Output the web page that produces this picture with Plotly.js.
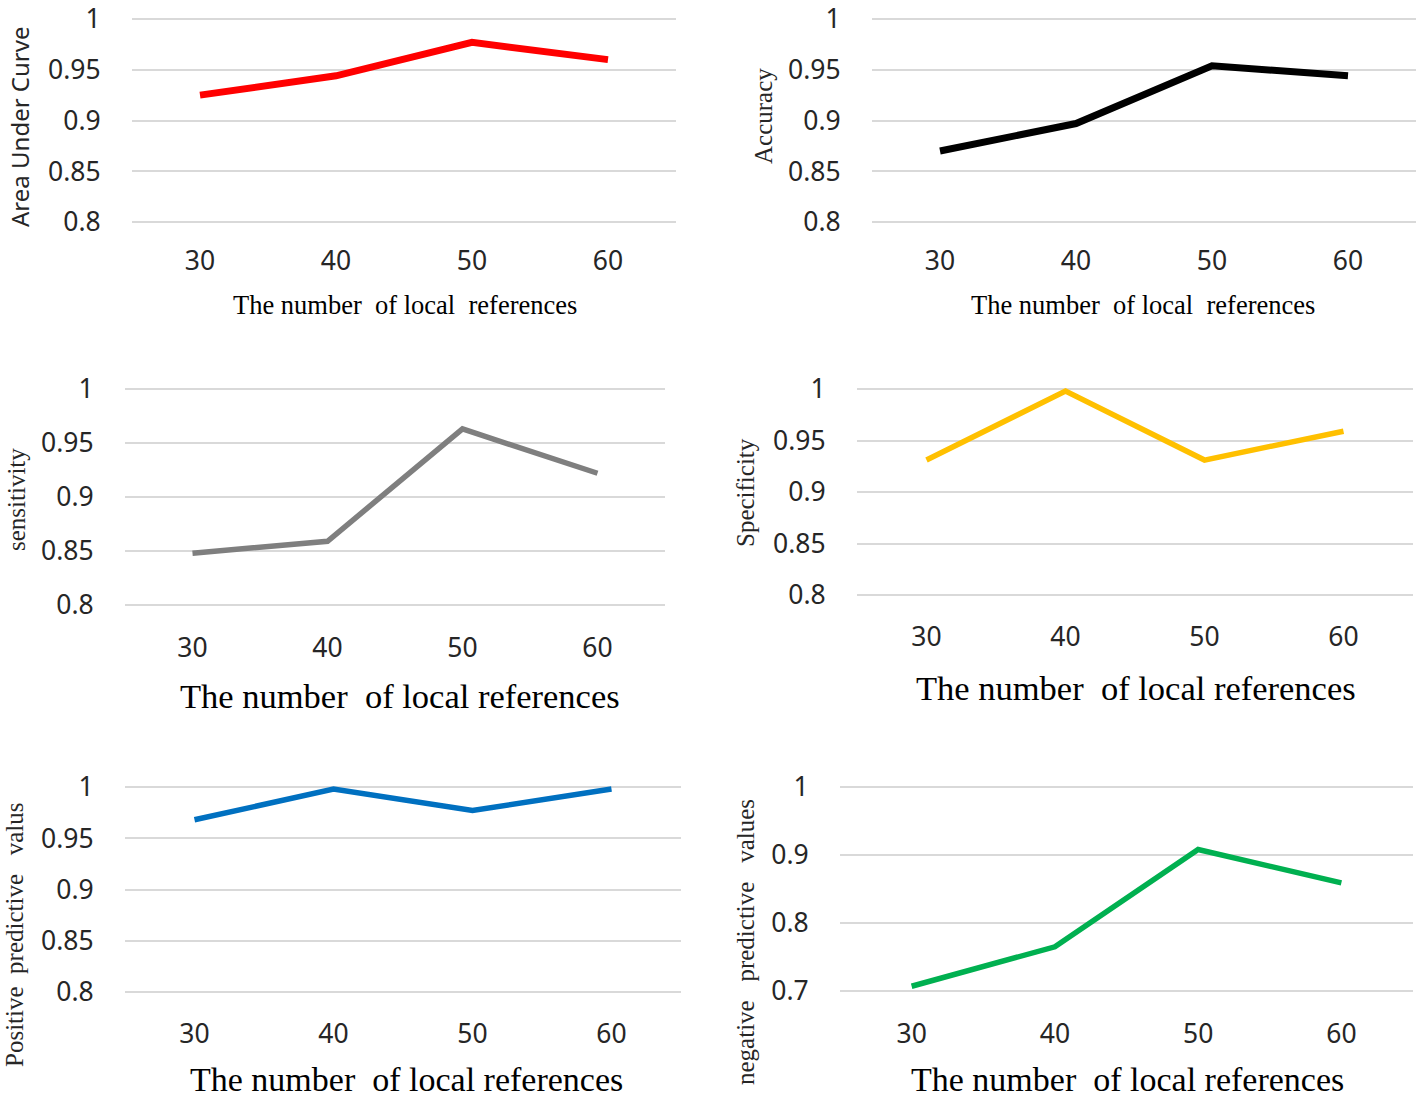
<!DOCTYPE html>
<html>
<head>
<meta charset="utf-8">
<script src="https://cdn.plot.ly/plotly-3.0.1.min.js"></script>
<style>
  html, body { margin: 0; padding: 0; background: #ffffff; }
  #chart { width: 1416px; height: 1099px; }
</style>
</head>
<body>
<div id="chart"></div>
<script>
// ---- data ----
const categories = ['30', '40', '50', '60'];
const aucValues = [0.925, 0.944, 0.977, 0.960];
const accuracyValues = [0.870, 0.897, 0.954, 0.944];
const sensitivityValues = [0.848, 0.859, 0.963, 0.922];
const specificityValues = [0.931, 0.998, 0.931, 0.959];
const ppvValues = [0.968, 0.998, 0.977, 0.998];
const npvValues = [0.707, 0.765, 0.908, 0.859];

const tickVals1 = [0.8, 0.85, 0.9, 0.95, 1];
const tickText1 = ['0.8', '0.85', '0.9', '0.95', '1'];
const tickVals2 = [0.7, 0.8, 0.9, 1];
const tickText2 = ['0.7', '0.8', '0.9', '1'];

const xTitle = 'The number\u00A0 of local references';
const xTitleTop = 'The number\u00A0 of local\u00A0 references';

// ---- layout specs (pixels) ----
const W = 1416, H = 1099, PAD = 10;
const panels = [
  { y: aucValues, color: '#FF0000', lw: 7, x0: 132, x1: 676, y0: 19, y1: 222, rmin: 0.8, rmax: 1, tv: tickVals1, tt: tickText1, xtl: 5,
    ytitle: 'Area Under Curve', ytFont: 'Noto Sans, sans-serif', ytSize: 24, ytx: 19, yty: 127,
    xtitle: xTitleTop, xtSize: 26.5, xtx: 405, xty: 305 },
  { y: accuracyValues, color: '#000000', lw: 7, x0: 872, x1: 1416, y0: 19, y1: 222, rmin: 0.8, rmax: 1, tv: tickVals1, tt: tickText1, xtl: 5,
    ytitle: 'Accuracy', ytFont: 'Liberation Serif, serif', ytSize: 25, ytx: 763, yty: 116,
    xtitle: xTitleTop, xtSize: 26.5, xtx: 1143, xty: 305 },
  { y: sensitivityValues, color: '#7F7F7F', lw: 5.5, x0: 125, x1: 665, y0: 389, y1: 605, rmin: 0.8, rmax: 1, tv: tickVals1, tt: tickText1, xtl: 9,
    ytitle: 'sensitivity', ytFont: 'Liberation Serif, serif', ytSize: 25, ytx: 16, yty: 500,
    xtitle: xTitle, xtSize: 34.5, xtx: 400, xty: 696 },
  { y: specificityValues, color: '#FFC000', lw: 5.5, x0: 857, x1: 1413, y0: 389, y1: 595, rmin: 0.8, rmax: 1, tv: tickVals1, tt: tickText1, xtl: 8,
    ytitle: 'Specificity', ytFont: 'Liberation Serif, serif', ytSize: 25, ytx: 745, yty: 493,
    xtitle: xTitle, xtSize: 34.5, xtx: 1136, xty: 688 },
  { y: ppvValues, color: '#0070C0', lw: 5.5, x0: 125, x1: 681, y0: 787, y1: 992, rmin: 0.8, rmax: 1, tv: tickVals1, tt: tickText1, xtl: 8,
    ytitle: 'Positive\u00A0\u00A0predictive\u00A0\u00A0\u00A0valus', ytFont: 'Liberation Serif, serif', ytSize: 25, ytx: 14, yty: 935,
    xtitle: xTitle, xtSize: 34, xtx: 407, xty: 1079 },
  { y: npvValues, color: '#00B050', lw: 5.5, x0: 840, x1: 1413, y0: 787, y1: 991, rmin: 0.7, rmax: 1, tv: tickVals2, tt: tickText2, xtl: 9,
    ytitle: 'negative\u00A0\u00A0\u00A0predictive\u00A0\u00A0\u00A0values', ytFont: 'Liberation Serif, serif', ytSize: 25, ytx: 745, yty: 942,
    xtitle: xTitle, xtSize: 34, xtx: 1127, xty: 1079 }
];

const data = [];
const layout = {
  width: W, height: H,
  margin: { l: 0, r: 0, t: 0, b: 0, pad: 0 },
  paper_bgcolor: '#ffffff', plot_bgcolor: '#ffffff',
  showlegend: false,
  font: { family: 'Noto Sans, sans-serif', color: '#262626' },
  annotations: []
};

panels.forEach((p, i) => {
  const n = i + 1;
  const xa = 'xaxis' + (n === 1 ? '' : n);
  const ya = 'yaxis' + (n === 1 ? '' : n);
  const upp = (p.rmax - p.rmin) / (p.y1 - p.y0);
  data.push({
    type: 'scatter', mode: 'lines',
    x: categories, y: p.y,
    xaxis: 'x' + (n === 1 ? '' : n), yaxis: 'y' + (n === 1 ? '' : n),
    line: { color: p.color, width: p.lw, shape: 'linear' },
    hoverinfo: 'x+y'
  });
  layout[xa] = {
    domain: [p.x0 / W, p.x1 / W],
    anchor: 'y' + (n === 1 ? '' : n),
    type: 'category',
    range: [-0.5, 3.5],
    showgrid: false, zeroline: false, showline: false,
    ticks: 'outside', ticklen: p.xtl, tickcolor: 'rgba(0,0,0,0)',
    ticklabeloverflow: 'allow',
    tickfont: { family: 'Noto Sans, sans-serif', size: 26.5, color: '#262626' }
  };
  layout[ya] = {
    domain: [1 - (p.y1 + PAD) / H, 1 - (p.y0 - PAD) / H],
    anchor: 'x' + (n === 1 ? '' : n),
    range: [p.rmin - PAD * upp, p.rmax + PAD * upp],
    tickmode: 'array', tickvals: p.tv, ticktext: p.tt,
    showgrid: true, gridcolor: '#D9D9D9', gridwidth: 2,
    zeroline: false, showline: false,
    ticks: 'outside', ticklen: 25, tickcolor: 'rgba(0,0,0,0)',
    ticklabeloverflow: 'allow',
    tickfont: { family: 'Noto Sans, sans-serif', size: 26.5, color: '#262626' }
  };
  layout.annotations.push({
    xref: 'paper', yref: 'paper', x: p.ytx / W, y: 1 - p.yty / H,
    xanchor: 'center', yanchor: 'middle', textangle: -90, showarrow: false,
    text: p.ytitle, font: { family: p.ytFont, size: p.ytSize, color: '#262626' }
  });
  layout.annotations.push({
    xref: 'paper', yref: 'paper', x: p.xtx / W, y: 1 - p.xty / H,
    xanchor: 'center', yanchor: 'middle', showarrow: false,
    text: p.xtitle, font: { family: 'Liberation Serif, serif', size: p.xtSize, color: '#000000' }
  });
});

Plotly.newPlot('chart', data, layout, { displayModeBar: false, staticPlot: true });
</script>
</body>
</html>
